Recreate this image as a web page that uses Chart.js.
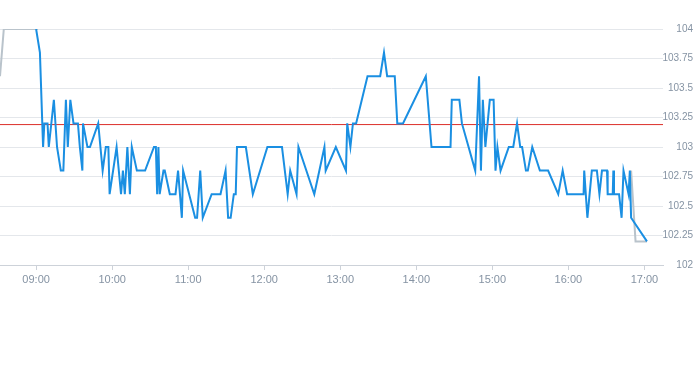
<!DOCTYPE html>
<html>
<head>
<meta charset="utf-8">
<script src="https://cdn.jsdelivr.net/npm/chart.js@4/dist/chart.umd.min.js"></script>
<style>
  html, body { margin: 0; padding: 0; background: #ffffff; }
  #wrap { width: 693px; height: 365px; position: relative; }
</style>
</head>
<body>
<div id="wrap"><canvas id="c"></canvas></div>
<script>
// ---- data ----
const priceTimes = [
  "09:00:00","09:03:00","09:05:30","09:06:30","09:09:00","09:10:00","09:14:00","09:16:30","09:19:30","09:21:30",
  "09:23:30","09:25:00","09:27:00","09:29:30","09:33:00","09:34:30","09:36:30","09:37:00","09:40:30","09:42:30",
  "09:49:00","09:52:30","09:55:00","09:57:00","09:58:00","10:03:30","10:07:00","10:08:30","10:10:00","10:12:00",
  "10:14:00","10:15:30","10:19:30","10:26:00","10:33:00","10:34:30","10:35:30","10:36:30","10:37:30","10:40:30",
  "10:41:30","10:45:30","10:50:00","10:52:00","10:55:00","10:56:00","11:05:30","11:07:00","11:09:30","11:11:30",
  "11:18:30","11:25:30","11:29:30","11:31:30","11:33:30","11:36:00","11:37:30","11:38:30","11:45:30","11:51:00",
  "12:02:30","12:14:00","12:18:30","12:20:30","12:25:30","12:27:00","12:39:30","12:47:30","12:48:30","12:56:30",
  "13:04:30","13:05:30","13:08:00","13:10:00","13:12:30","13:21:30","13:31:30","13:34:30","13:37:00","13:43:00",
  "13:45:00","13:49:30","14:07:30","14:12:00","14:27:00","14:28:00","14:34:00","14:36:00","14:46:30","14:49:30",
  "14:51:00","14:52:30","14:54:30","14:58:00","15:01:00","15:02:30","15:04:00","15:06:30","15:13:00","15:16:30",
  "15:19:30","15:22:00","15:23:30","15:26:30","15:28:00","15:31:30","15:37:30","15:44:00","15:52:00","15:55:30",
  "15:59:00","16:12:00","16:12:30","16:15:00","16:18:30","16:22:30","16:24:30","16:26:30","16:30:30","16:31:00",
  "16:35:00","16:35:30","16:36:00","16:40:00","16:42:00","16:43:30","16:47:30","16:48:30","16:49:30","17:02:00"
];
const priceValues = [
  104.0,103.8,103.0,103.2,103.2,103.0,103.4,103.0,102.8,102.8,
  103.4,103.0,103.4,103.2,103.2,103.0,102.8,103.2,103.0,103.0,
  103.2,102.8,103.0,103.0,102.6,103.0,102.6,102.8,102.6,103.0,
  102.6,103.0,102.8,102.8,103.0,103.0,102.6,103.0,102.6,102.8,
  102.8,102.6,102.6,102.8,102.4,102.8,102.4,102.4,102.8,102.4,
  102.6,102.6,102.8,102.4,102.4,102.6,102.6,103.0,103.0,102.6,
  103.0,103.0,102.6,102.8,102.6,103.0,102.6,103.0,102.8,103.0,
  102.8,103.2,103.0,103.2,103.2,103.6,103.6,103.8,103.6,103.6,
  103.2,103.2,103.6,103.0,103.0,103.4,103.4,103.2,102.8,103.6,
  102.8,103.4,103.0,103.4,103.4,102.8,103.0,102.8,103.0,103.0,
  103.2,103.0,103.0,102.8,102.8,103.0,102.8,102.8,102.6,102.8,
  102.6,102.6,102.8,102.4,102.8,102.8,102.6,102.8,102.8,102.6,
  102.6,102.8,102.6,102.6,102.4,102.8,102.6,102.8,102.4,102.2
];
// grey (out-of-session) segments
const preTimes = ["08:31:30","08:34:30","09:01:30"];
const preValues = [103.6, 104.0, 104.0];
const postTimes = ["16:49:30","16:53:00","17:02:00"];
const postValues = [102.8, 102.2, 102.2];
// reference level
const refLevel = 103.19;
// axes
const xMinTime = "08:31:30";
const xMaxTime = "17:14:40";
const xTickTimes = ["09:00","10:00","11:00","12:00","13:00","14:00","15:00","16:00","17:00"];
const yTickValues = [102, 102.25, 102.5, 102.75, 103, 103.25, 103.5, 103.75, 104];
const yTickLabels = ["102","102.25","102.5","102.75","103","103.25","103.5","103.75","104"];

// ---- helpers ----
function toMin(t) {
  const p = t.split(":").map(Number);
  return p[0] * 60 + p[1] + (p[2] || 0) / 60;
}
function fmt(m) {
  const h = Math.floor(m / 60), mm = Math.round(m - h * 60);
  return String(h).padStart(2, "0") + ":" + String(mm).padStart(2, "0");
}
function pts(ts, vs) { return ts.map((t, i) => ({ x: toMin(t), y: vs[i] })); }

const xMin = toMin(xMinTime), xMax = toMin(xMaxTime);
const labelColor = "#8593a3";

new Chart(document.getElementById("c"), {
  type: "line",
  data: {
    datasets: [
      { data: pts(priceTimes, priceValues), borderColor: "#1a8fe2", borderWidth: 2, pointRadius: 0, tension: 0, order: 1 },
      { data: [{ x: xMin, y: refLevel }, { x: xMax, y: refLevel }], borderColor: "#dc2f2a", borderWidth: 1, pointRadius: 0, order: 2 },
      { data: pts(preTimes, preValues), borderColor: "#b9c3cb", borderWidth: 2, pointRadius: 0, tension: 0, order: 3 },
      { data: pts(postTimes, postValues), borderColor: "#b9c3cb", borderWidth: 2, pointRadius: 0, tension: 0, order: 3 }
    ]
  },
  options: {
    responsive: true,
    maintainAspectRatio: false,
    animation: false,
    events: [],
    layout: { padding: { top: 29, bottom: 75, left: 0, right: 0 } },
    plugins: { legend: { display: false }, tooltip: { enabled: false } },
    scales: {
      x: {
        type: "linear",
        min: xMin,
        max: xMax,
        afterBuildTicks: s => { s.ticks = xTickTimes.map(t => ({ value: toMin(t) })); },
        afterFit: s => { s.height = 25; },
        grid: { drawOnChartArea: false, drawTicks: true, tickLength: 5, color: "#cdd2d9" },
        border: { display: true, color: "#cdd2d9", width: 1 },
        ticks: { color: labelColor, font: { family: "Liberation Sans", size: 11 }, padding: 3, maxRotation: 0, autoSkip: false,
                 callback: v => fmt(v) }
      },
      y: {
        position: "right",
        min: 102,
        max: 104,
        afterBuildTicks: s => { s.ticks = yTickValues.map(v => ({ value: v })); },
        afterFit: s => { s.width = 30; },
        grid: { color: "#e4e7eb", drawTicks: false },
        border: { display: false },
        ticks: { color: labelColor, font: { family: "Liberation Sans", size: 10 }, padding: 0, crossAlign: "far",
                 callback: v => yTickLabels[yTickValues.indexOf(v)] }
      }
    }
  }
});
</script>
</body>
</html>
